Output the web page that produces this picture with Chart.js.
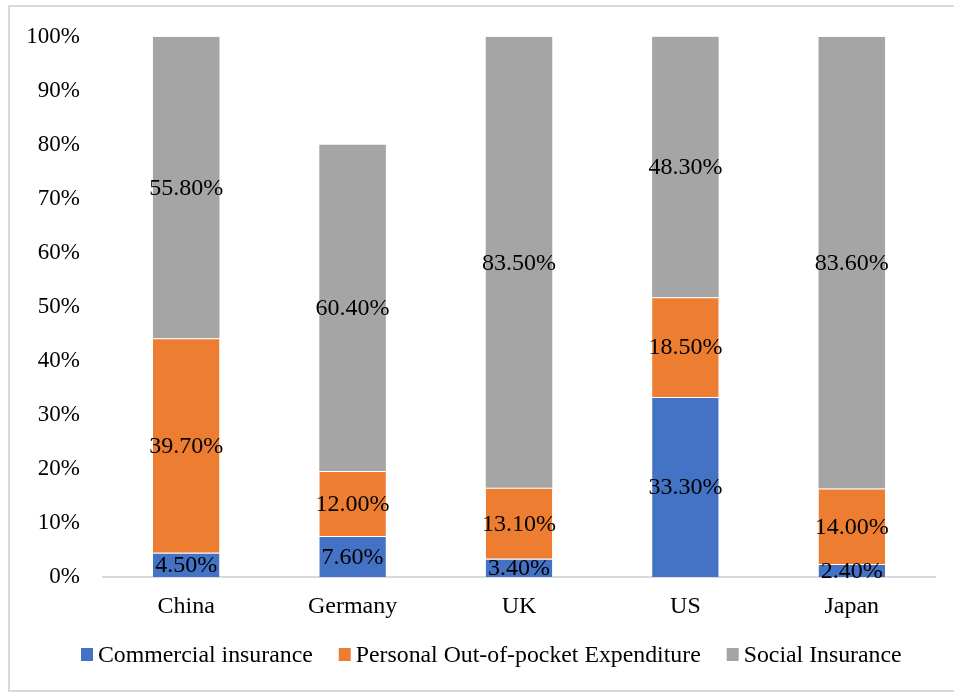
<!DOCTYPE html>
<html>
<head>
<meta charset="utf-8">
<title>Health Expenditure Structure</title>
<script src="https://cdn.jsdelivr.net/npm/chart.js@4.4.1/dist/chart.umd.min.js"></script>
<style>
body{
margin:0;
background:#ffffff;
}
#wrap{
width:954px;
height:693px;
}
</style>
</head>
<body>
<div id="wrap">
<canvas id="structureChart" width="954" height="693"></canvas>
</div>

<script>

// ================================
// DATA
// ================================

const countries = ['China','Germany','UK','US','Japan'];

const commercialInsurance = [4.5, 7.6, 3.4, 33.3, 2.4];

const outOfPocket = [39.7, 12.0, 13.1, 18.5, 14.0];

const socialInsurance = [55.8, 60.4, 83.5, 48.3, 83.6];

const yTicks = [0,10,20,30,40,50,60,70,80,90,100];


const serif = "'Liberation Serif', 'Times New Roman', serif";


// ================================
// SEGMENT LABELS
// ================================

const segmentLabels = {

id:'segmentLabels',

afterDatasetsDraw(chart){

const ctx = chart.ctx;

ctx.save();
ctx.font = '24px ' + serif;
ctx.fillStyle = '#000000';
ctx.textAlign = 'center';
ctx.textBaseline = 'middle';

chart.data.datasets.forEach(function(ds, i){

const meta = chart.getDatasetMeta(i);

meta.data.forEach(function(bar, j){

const top = Math.max(bar.y, chart.chartArea.top);
const mid = (top + bar.base) / 2;

ctx.fillText(ds.data[j].toFixed(2) + '%', bar.x, mid + 1);

});

});

ctx.restore();

}

};


// ================================
// LEGEND (square swatch, tight gap)
// ================================

const bottomLegend = {

id:'bottomLegend',

afterDraw(chart){

const ctx = chart.ctx;
let x = 81;
const y = 655;

ctx.save();
ctx.font = '23.8px ' + serif;
ctx.textBaseline = 'middle';
ctx.textAlign = 'left';

chart.data.datasets.forEach(function(ds){

ctx.fillStyle = ds.backgroundColor;
ctx.fillRect(x, y - 7, 12, 13);

x += 17;

ctx.fillStyle = '#000000';
ctx.fillText(ds.label, x, y + 1);

x += ctx.measureText(ds.label).width + 26;

});

ctx.restore();

}

};


// ================================
// OUTER FRAME
// ================================

const outerFrame = {

id:'outerFrame',

beforeDraw(chart){

const ctx = chart.ctx;

ctx.save();
ctx.strokeStyle = '#d9d9d9';
ctx.lineWidth = 2;
ctx.strokeRect(9, 6, 960, 685);
ctx.restore();

}

};


document.addEventListener("DOMContentLoaded", function(){

const el = document.getElementById('structureChart');

if(el){

new Chart(el,{

type:'bar',

data:{

labels:countries,

datasets:[

{
label:'Commercial insurance',
data:commercialInsurance,
backgroundColor:'#4472C4',
borderColor:'#ffffff',
borderWidth:{ top:1, left:0, right:0, bottom:0 }
},

{
label:'Personal Out-of-pocket Expenditure',
data:outOfPocket,
backgroundColor:'#ED7D31',
borderColor:'#ffffff',
borderWidth:{ top:1, left:0, right:0, bottom:0 }
},

{
label:'Social Insurance',
data:socialInsurance,
backgroundColor:'#A5A5A5',
borderWidth:0
}

]

},

options:{

responsive:false,
animation:false,

layout:{
padding:{ top:35, right:19, bottom:0, left:0 }
},

datasets:{
bar:{
barPercentage:0.4,
categoryPercentage:1
}
},

scales:{

x:{
stacked:true,
grid:{ display:false, drawTicks:false },
border:{ display:true, color:'#d9d9d9', width:2 },
ticks:{
color:'#000000',
padding:15,
font:{ family:serif, size:24 }
},
afterFit(scale){ scale.height = 116; }
},

y:{
stacked:true,
min:0,
max:100,
grid:{ display:false, drawTicks:false },
border:{ display:false },
afterBuildTicks(scale){
scale.ticks = yTicks.map(function(v){ return { value:v }; });
},
ticks:{
color:'#000000',
padding:23,
font:{ family:serif, size:23 },
callback:function(v){ return v + '%'; }
},
afterFit(scale){ scale.width = 103; }
}

},

plugins:{

legend:{ display:false },

tooltip:{ enabled:false }

}

},

plugins:[outerFrame, segmentLabels, bottomLegend]

});

}

});

</script>
</body>
</html>
